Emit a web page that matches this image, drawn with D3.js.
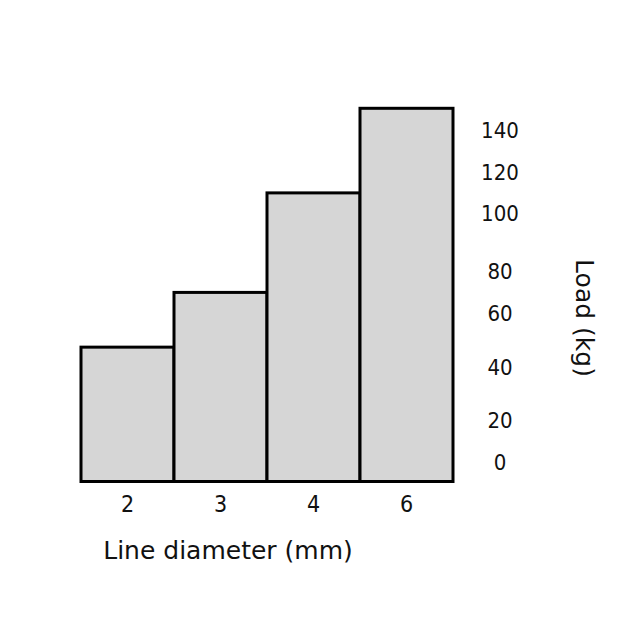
<!DOCTYPE html>
<html>
<head>
<meta charset="utf-8">
<script src="https://cdn.jsdelivr.net/npm/d3@7/dist/d3.min.js"></script>
<style>
  html, body { margin: 0; padding: 0; background: #fff; }
  svg { display: block; }
  text { font-family: "DejaVu Sans Condensed", "DejaVu Sans", sans-serif; fill: #111; }
  text.title { font-family: "DejaVu Sans", sans-serif; }
</style>
</head>
<body>
<svg id="chart" width="639" height="639"></svg>
<script>
// ---- data ----
const categories = ["2", "3", "4", "6"];          // line diameter (mm)
const loads = [54, 76, 116, 150];                  // load (kg)
const tickLabels = [0, 20, 40, 60, 80, 100, 120, 140];
const xTitle = "Line diameter (mm)";
const yTitle = "Load (kg)";

// ---- layout ----
const svg = d3.select("#chart");
const plotLeft = 81, plotRight = 453, plotBase = 481.5, plotTop = 108.3;

const x = d3.scaleBand().domain(categories).range([plotLeft, plotRight]).padding(0);
const y = d3.scaleLinear().domain([0, d3.max(loads)]).range([plotBase, plotTop]);

// tick labels in the original are placed at uneven heights
const labelY = d3.scaleLinear()
  .domain(tickLabels)
  .range([461.7, 420, 366.7, 313, 270.7, 213, 171.7, 130]);

// bars
svg.append("g").selectAll("rect")
  .data(loads)
  .join("rect")
  .attr("x", (d, i) => x(categories[i]))
  .attr("y", d => y(d))
  .attr("width", x.bandwidth())
  .attr("height", d => y(0) - y(d))
  .attr("fill", "#d6d6d6")
  .attr("stroke", "#000")
  .attr("stroke-width", 3)
  .attr("stroke-linejoin", "miter");

// x tick labels
svg.append("g").selectAll("text")
  .data(categories)
  .join("text")
  .attr("x", d => x(d) + x.bandwidth() / 2)
  .attr("y", 512)
  .attr("text-anchor", "middle")
  .attr("font-size", 23)
  .text(d => d);

// x title
svg.append("text")
  .attr("class", "title")
  .attr("x", 228)
  .attr("y", 559)
  .attr("text-anchor", "middle")
  .attr("font-size", 25)
  .text(xTitle);

// y tick labels (right side)
svg.append("g").selectAll("text")
  .data(tickLabels)
  .join("text")
  .attr("x", 500)
  .attr("y", d => labelY(d) + 8)
  .attr("text-anchor", "middle")
  .attr("font-size", 22)
  .text(d => d);

// y title rotated
svg.append("text")
  .attr("class", "title")
  .attr("transform", "translate(576,318) rotate(90)")
  .attr("text-anchor", "middle")
  .attr("font-size", 25)
  .text(yTitle);
</script>
</body>
</html>
